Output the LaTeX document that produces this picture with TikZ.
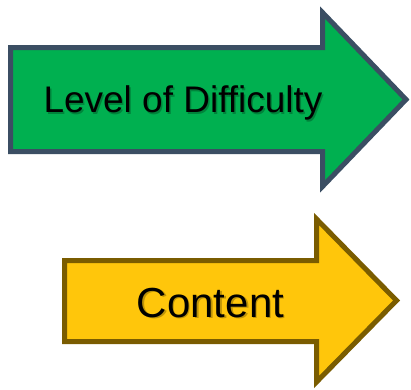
\documentclass[tikz,border=0pt]{standalone}
\usepackage{fontspec}
\setmainfont{Liberation Sans}
\definecolor{grfill}{HTML}{00B050}
\definecolor{grline}{HTML}{3B4E63}
\definecolor{ylfill}{HTML}{FFC60B}
\definecolor{ylline}{HTML}{7A5C00}
\tikzset{
  arrowbody/.style={line width=5pt, line join=miter},
  lbl/.style={anchor=base, inner sep=0pt, text=black},
  shadowlbl/.style={anchor=base, inner sep=0pt, text=black, opacity=0.25},
}
\begin{document}
\begin{tikzpicture}[x=1pt,y=-1pt]
\useasboundingbox (0,0) rectangle (411,389);
% green arrow
\draw[arrowbody, fill=grfill, draw=grline]
  (10.5,47.5) -- (322.5,47.5) -- (322.5,12.5) -- (406,99.5) -- (322.5,186.5) -- (322.5,151.5) -- (10.5,151.5) -- cycle;
\node[shadowlbl, font=\fontsize{37}{40}\selectfont] (s1) at (184.5,114) {Level of Difficulty};
\node[lbl, font=\fontsize{37}{40}\selectfont] (t1) at (183,112.5) {Level of Difficulty};
% yellow arrow
\draw[arrowbody, fill=ylfill, draw=ylline]
  (64.5,260.5) -- (316.5,260.5) -- (316.5,219) -- (396.5,300.5) -- (316.5,382) -- (316.5,341.5) -- (64.5,341.5) -- cycle;
\node[shadowlbl, font=\fontsize{42}{45}\selectfont] (s2) at (212,318.5) {Content};
\node[lbl, font=\fontsize{42}{45}\selectfont] (t2) at (210.5,317) {Content};
\end{tikzpicture}
\end{document}
